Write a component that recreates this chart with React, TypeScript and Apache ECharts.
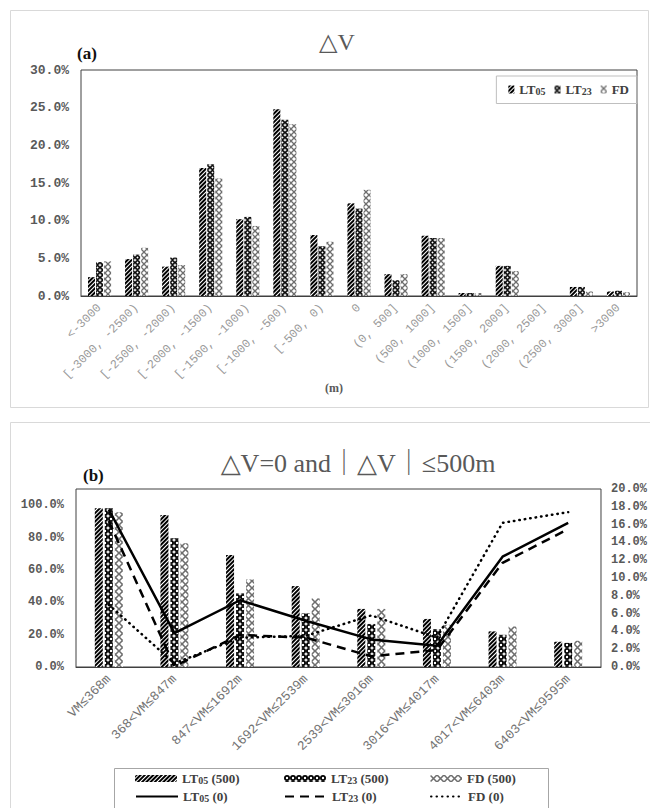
import React, { useEffect, useRef } from "react";
import * as echarts from "echarts";

// (a) distribution of ΔV over elevation-difference bins (share of samples, %)
const rangeCats = [
  "<-3000",
  "[-3000, -2500)",
  "[-2500, -2000)",
  "[-2000, -1500)",
  "[-1500, -1000)",
  "[-1000, -500)",
  "[-500, 0)",
  "0",
  "(0, 500]",
  "(500, 1000]",
  "(1000, 1500]",
  "(1500, 2000]",
  "(2000, 2500]",
  "(2500, 3000]",
  ">3000",
];
const lt05Share = [2.5, 4.9, 3.9, 17.0, 10.2, 24.8, 8.1, 12.3, 2.9, 8.0, 0.4, 4.0, 0, 1.2, 0.6];
const lt23Share = [4.5, 5.5, 5.1, 17.5, 10.5, 23.4, 6.6, 11.6, 2.1, 7.7, 0.4, 4.0, 0, 1.2, 0.7];
const fdShare = [4.6, 6.4, 4.1, 15.6, 9.3, 22.8, 7.2, 14.1, 2.9, 7.7, 0.4, 3.3, 0, 0.6, 0.5];

// (b) share within |ΔV| <= 500 m (bars, left axis) and ΔV = 0 (lines, right axis)
const vmCats = [
  "VM≤368m",
  "368<VM≤847m",
  "847<VM≤1692m",
  "1692<VM≤2539m",
  "2539<VM≤3016m",
  "3016<VM≤4017m",
  "4017<VM≤6403m",
  "6403<VM≤9595m",
];
const lt05Within500 = [98.1, 94.0, 69.2, 50.0, 35.9, 29.7, 22.0, 15.6];
const lt23Within500 = [98.1, 79.5, 45.5, 33.1, 26.6, 23.4, 19.9, 14.9];
const fdWithin500 = [95.7, 76.4, 54.1, 42.4, 35.9, 26.1, 25.1, 16.2];
const lt05Zero = [17.7, 3.8, 7.5, 5.2, 3.1, 2.4, 12.4, 16.2];
const lt23Zero = [16.4, 0.1, 3.6, 3.3, 1.2, 1.9, 11.7, 15.5];
const fdZero = [7.0, 0.4, 3.3, 3.5, 5.8, 3.3, 16.2, 17.4];

// axis ranges
const shareAxisA = { min: 0, max: 30, step: 5 };
const shareAxisB = { min: 0, max: 110, step: 20, lastLabel: 100 };
const zeroAxisB = { min: 0, max: 20, step: 2 };

const MONO = "'Liberation Mono', 'DejaVu Sans Mono', monospace";
const SERIF = "'Liberation Serif', 'DejaVu Serif', 'Noto Sans CJK SC', serif";

const hatch = {
  symbol: "rect",
  symbolSize: 1,
  color: "#000",
  dashArrayX: [1, 0],
  dashArrayY: [2, 1],
  rotation: -Math.PI / 4,
};
const beads = (size: number) => ({
  symbol: "path://M5,0A5,5 0 1 1 5,10A5,5 0 1 1 5,0ZM5,3A2,2 0 1 0 5,7A2,2 0 1 0 5,3Z",
  symbolSize: 1,
  color: "#000",
  dashArrayX: [size, 0],
  dashArrayY: [size, 0],
});
const crosses = (size: number) => ({
  symbol:
    "path://M0,0L1.6,0L10,8.4L10,10L8.4,10L0,1.6ZM8.4,0L10,0L10,1.6L1.6,10L0,10L0,8.4Z",
  symbolSize: 1,
  color: "#6e6e6e",
  dashArrayX: [size, 0],
  dashArrayY: [size, 0],
});

const pct = (v: number) => v.toFixed(1) + "%";

const legendLabel = (name: string) => {
  const m = name.match(/^(LT)(\d\d)\s?(.*)$/);
  if (!m) return `{t|${name}}`;
  return `{t|${m[1]}}{s|${m[2]}}` + (m[3] ? `{t| ${m[3]}}` : "");
};
const legendRich = (size: number) => ({
  t: { fontFamily: SERIF, fontWeight: "bold", fontSize: size, color: "#404040" },
  s: {
    fontFamily: SERIF,
    fontWeight: "bold",
    fontSize: size - 3,
    color: "#404040",
    padding: [4, 0, 0, 0],
  },
});

// one legend entry of panel (b), placed on a 3 x 2 grid inside the framed box
const cellLegend = (name: string, left: number, top: number, iconWidth: number) => ({
  data: [name],
  left,
  top,
  padding: 0,
  itemWidth: iconWidth,
  itemHeight: 7,
  formatter: legendLabel,
  textStyle: { rich: legendRich(13) },
});

export default function App() {
  const ref = useRef<HTMLDivElement>(null);

  useEffect(() => {
    document.body.style.margin = "0";
    const chart = echarts.init(ref.current!, null, { renderer: "svg" });

    const yLabel = {
      color: "#595959",
      fontFamily: MONO,
      fontWeight: "bold" as const,
      fontSize: 13,
    };

    const lineItem = { color: "rgba(0,0,0,0)" };

    const option: any = {
      animation: false,
      backgroundColor: "#fff",
      grid: [
        {
          left: 81,
          top: 70,
          width: 556,
          height: 226,
          show: true,
          borderColor: "#404040",
          borderWidth: 1,
        },
        {
          left: 76,
          top: 489,
          width: 527,
          height: 178,
          show: true,
          borderColor: "#404040",
          borderWidth: 1,
        },
      ],
      xAxis: [
        {
          type: "category",
          gridIndex: 0,
          data: rangeCats,
          axisTick: { show: false },
          axisLine: { lineStyle: { color: "#404040" } },
          axisLabel: {
            interval: 0,
            rotate: 45,
            margin: 10,
            color: "#9a9a9a",
            fontFamily: MONO,
            fontSize: 12,
          },
        },
        {
          type: "category",
          gridIndex: 1,
          data: vmCats,
          axisTick: { show: false },
          axisLine: { lineStyle: { color: "#404040" } },
          axisLabel: {
            interval: 0,
            rotate: 45,
            margin: 10,
            color: "#737373",
            fontFamily: MONO,
            fontSize: 13,
          },
        },
      ],
      yAxis: [
        {
          type: "value",
          gridIndex: 0,
          min: shareAxisA.min,
          max: shareAxisA.max,
          interval: shareAxisA.step,
          splitLine: { show: false },
          axisLine: { show: false },
          axisTick: { show: false },
          axisLabel: { ...yLabel, margin: 12, formatter: pct },
        },
        {
          type: "value",
          gridIndex: 1,
          min: shareAxisB.min,
          max: shareAxisB.max,
          interval: shareAxisB.step,
          splitLine: { show: false },
          axisLine: { show: false },
          axisTick: { show: false },
          axisLabel: {
            ...yLabel,
            fontSize: 12,
            margin: 12,
            formatter: (v: number) => (v > shareAxisB.lastLabel ? "" : pct(v)),
          },
        },
        {
          type: "value",
          gridIndex: 1,
          position: "right",
          min: zeroAxisB.min,
          max: zeroAxisB.max,
          interval: zeroAxisB.step,
          splitLine: { show: false },
          axisLine: { show: false },
          axisTick: { show: false },
          axisLabel: { ...yLabel, fontSize: 12, margin: 10, formatter: pct },
        },
      ],
      legend: [
        {
          data: ["LT05", "LT23", "FD"],
          right: 13,
          top: 76,
          orient: "horizontal",
          icon: "rect",
          itemWidth: 6,
          itemHeight: 8,
          itemGap: 9,
          borderColor: "#bfbfbf",
          borderWidth: 1,
          padding: [7, 8, 7, 12],
          formatter: legendLabel,
          textStyle: { rich: legendRich(13) },
        },
        cellLegend("LT05 (500)", 135, 772, 42),
        cellLegend("LT05 (0)", 135, 790, 42),
        cellLegend("LT23(500)", 284, 772, 42),
        cellLegend("LT23(0)", 284, 790, 42),
        cellLegend("FD (500)", 430, 772, 32),
        cellLegend("FD (0)", 430, 790, 32),
      ],
      graphic: [
        {
          type: "rect",
          shape: { x: 10.5, y: 10.5, width: 638, height: 397 },
          style: { fill: "none", stroke: "#d9d9d9", lineWidth: 1 },
          silent: true,
        },
        {
          type: "rect",
          shape: { x: 10.5, y: 422.5, width: 660, height: 420 },
          style: { fill: "none", stroke: "#d9d9d9", lineWidth: 1 },
          silent: true,
        },
        {
          type: "rect",
          shape: { x: 114.5, y: 768.5, width: 434, height: 60 },
          style: { fill: "none", stroke: "#a6a6a6", lineWidth: 1 },
          silent: true,
        },
        {
          type: "text",
          x: 337,
          y: 42,
          style: {
            text: "△V",
            fontFamily: SERIF,
            fontSize: 24,
            fill: "#595959",
            align: "center",
            verticalAlign: "middle",
          },
        },
        {
          type: "text",
          x: 77,
          y: 53,
          style: {
            text: "(a)",
            fontFamily: SERIF,
            fontWeight: "bold",
            fontSize: 17,
            fill: "#111",
            align: "left",
            verticalAlign: "middle",
          },
        },
        {
          type: "text",
          x: 334,
          y: 388,
          style: {
            text: "(m)",
            fontFamily: SERIF,
            fontWeight: "bold",
            fontSize: 12,
            fill: "#595959",
            align: "center",
            verticalAlign: "middle",
          },
        },
        {
          type: "text",
          x: 358,
          y: 463,
          style: {
            text: "△V=0 and｜△V｜≤500m",
            fontFamily: SERIF,
            fontSize: 26,
            fill: "#595959",
            align: "center",
            verticalAlign: "middle",
          },
        },
        {
          type: "text",
          x: 83,
          y: 475,
          style: {
            text: "(b)",
            fontFamily: SERIF,
            fontWeight: "bold",
            fontSize: 17,
            fill: "#111",
            align: "left",
            verticalAlign: "middle",
          },
        },
      ],
      series: [
        {
          name: "LT05",
          type: "bar",
          xAxisIndex: 0,
          yAxisIndex: 0,
          data: lt05Share,
          barWidth: 7,
          barGap: "15%",
          itemStyle: { color: "#fff", decal: hatch },
        },
        {
          name: "LT23",
          type: "bar",
          xAxisIndex: 0,
          yAxisIndex: 0,
          data: lt23Share,
          barWidth: 7,
          barGap: "15%",
          itemStyle: { color: "#fff", decal: beads(5) },
        },
        {
          name: "FD",
          type: "bar",
          xAxisIndex: 0,
          yAxisIndex: 0,
          data: fdShare,
          barWidth: 7,
          barGap: "15%",
          itemStyle: { color: "#fff", decal: crosses(6) },
        },
        {
          name: "LT05 (500)",
          type: "bar",
          xAxisIndex: 1,
          yAxisIndex: 1,
          data: lt05Within500,
          barWidth: 8,
          barGap: "25%",
          itemStyle: { color: "#fff", decal: hatch },
        },
        {
          name: "LT23(500)",
          type: "bar",
          xAxisIndex: 1,
          yAxisIndex: 1,
          data: lt23Within500,
          barWidth: 8,
          barGap: "25%",
          itemStyle: { color: "#fff", decal: beads(6) },
        },
        {
          name: "FD (500)",
          type: "bar",
          xAxisIndex: 1,
          yAxisIndex: 1,
          data: fdWithin500,
          barWidth: 8,
          barGap: "25%",
          itemStyle: { color: "#fff", decal: crosses(7) },
        },
        {
          name: "LT05 (0)",
          type: "line",
          xAxisIndex: 1,
          yAxisIndex: 2,
          data: lt05Zero,
          symbol: "none",
          z: 5,
          itemStyle: lineItem,
          lineStyle: { color: "#000", width: 2.5, type: "solid" },
        },
        {
          name: "LT23(0)",
          type: "line",
          xAxisIndex: 1,
          yAxisIndex: 2,
          data: lt23Zero,
          symbol: "none",
          z: 5,
          itemStyle: lineItem,
          lineStyle: { color: "#000", width: 2.5, type: [9, 6] },
        },
        {
          name: "FD (0)",
          type: "line",
          xAxisIndex: 1,
          yAxisIndex: 2,
          data: fdZero,
          symbol: "none",
          z: 5,
          itemStyle: lineItem,
          lineStyle: { color: "#000", width: 2.5, type: [0.5, 5], cap: "round" },
        },
      ],
    };

    chart.setOption(option);
    return () => chart.dispose();
  }, []);

  return <div ref={ref} style={{ width: 650, height: 808 }} />;
}
